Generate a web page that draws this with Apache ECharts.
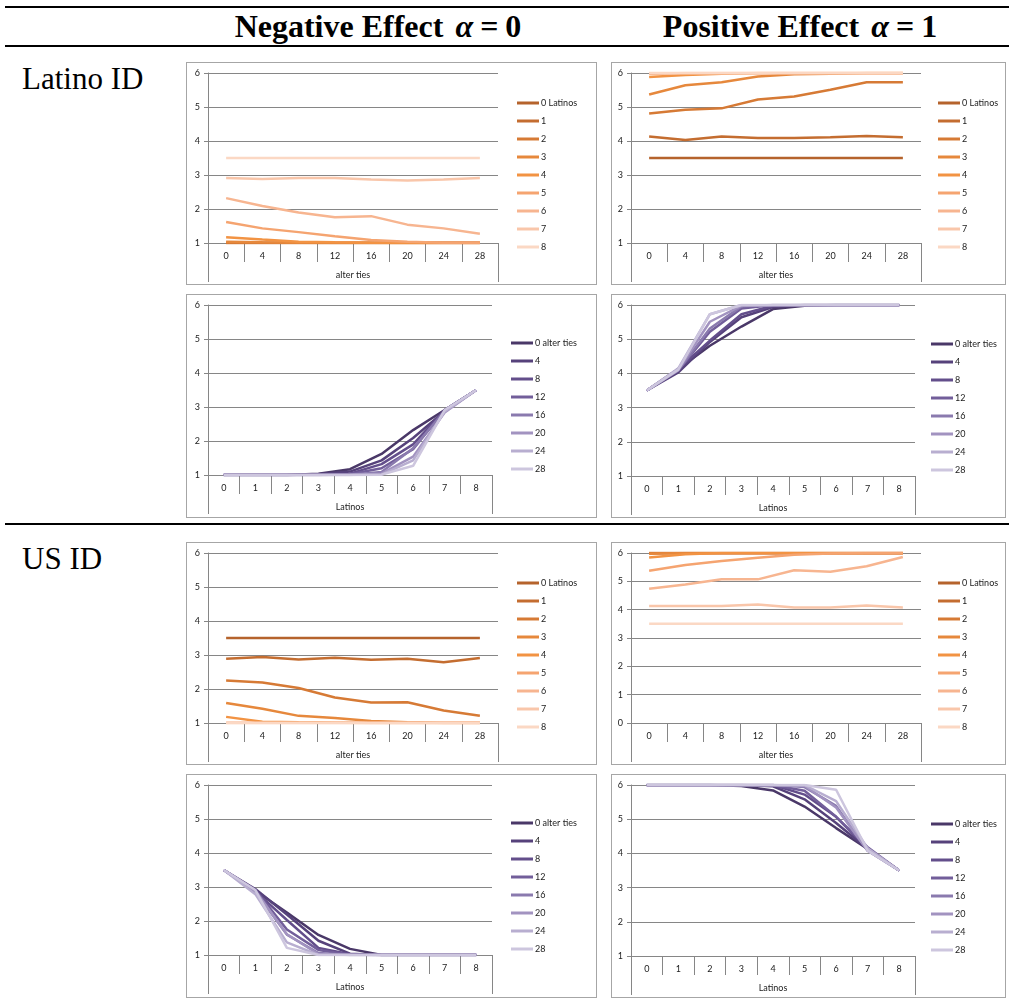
<!DOCTYPE html>
<html><head><meta charset="utf-8">
<script src="https://cdn.jsdelivr.net/npm/echarts@6/dist/echarts.min.js"></script>
<style>
html,body{margin:0;padding:0;background:#fff;}
body{width:1009px;height:1003px;position:relative;overflow:hidden;font-family:"Liberation Serif","Times New Roman",serif;}
.rule{position:absolute;left:5px;width:1004px;height:1.5px;background:#000;}
.title{position:absolute;top:8px;width:460px;text-align:center;font-weight:bold;font-size:32px;line-height:36px;color:#000;white-space:nowrap;}
.title i{font-weight:bold;margin-left:4px;}
.title .eq{margin:0 7px;}
.rowlab{position:absolute;left:22px;font-size:31px;line-height:31px;color:#000;}
.box{position:absolute;border:1px solid #a6a6a6;box-sizing:border-box;}
.chart{position:absolute;}
</style></head>
<body>
<div class="rule" style="top:6px"></div>
<div class="rule" style="top:45px"></div>
<div class="rule" style="top:523px"></div>
<div class="title" style="left:148px">Negative Effect <i>α</i><span class="eq">=</span>0</div>
<div class="title" style="left:570px">Positive Effect <i>α</i><span class="eq">=</span>1</div>
<div class="rowlab" style="top:63px">Latino ID</div>
<div class="rowlab" style="top:543px">US ID</div>
<div id="panels"></div>
<script>
// ---- data ----
const alterTies = ['0','4','8','12','16','20','24','28'];
const latinos = ['0','1','2','3','4','5','6','7','8'];
// rows: number of Latinos (0..8); columns: alter ties (0..28)
const latinoNeg = [
  [1,1,1,1,1,1,1,1],
  [1,1,1,1,1,1,1,1],
  [1,1,1,1,1,1,1,1],
  [1.04,1.02,1.01,1,1,1,1,1],
  [1.17,1.1,1.04,1.02,1.01,1,1,1],
  [1.62,1.43,1.32,1.2,1.09,1.04,1.01,1.01],
  [2.32,2.09,1.9,1.76,1.79,1.54,1.43,1.27],
  [2.91,2.88,2.91,2.91,2.87,2.84,2.87,2.91],
  [3.5,3.5,3.5,3.5,3.5,3.5,3.5,3.5]
];
const latinoPos = [
  [3.5,3.5,3.5,3.5,3.5,3.5,3.5,3.5],
  [4.13,4.03,4.13,4.09,4.09,4.11,4.15,4.11],
  [4.81,4.92,4.96,5.22,5.31,5.51,5.73,5.73],
  [5.37,5.64,5.73,5.9,5.96,5.98,6,6],
  [5.88,5.94,5.98,6,6,6,6,6],
  [5.98,6,6,6,6,6,6,6],
  [6,6,6,6,6,6,6,6],
  [6,6,6,6,6,6,6,6],
  [6,6,6,6,6,6,6,6]
];
const usNeg = [
  [3.5,3.5,3.5,3.5,3.5,3.5,3.5,3.5],
  [2.89,2.94,2.87,2.92,2.86,2.89,2.79,2.91],
  [2.25,2.19,2.03,1.75,1.6,1.61,1.37,1.21],
  [1.59,1.42,1.21,1.15,1.06,1.02,1,1],
  [1.18,1.04,1.02,1.01,1,1,1,1],
  [1,1,1,1,1,1,1,1],
  [1,1,1,1,1,1,1,1],
  [1,1,1,1,1,1,1,1],
  [1,1,1,1,1,1,1,1]
];
const usPos = [
  [6,6,6,6,6,6,6,6],
  [6,6,6,6,6,6,6,6],
  [6,6,6,6,6,6,6,6],
  [5.97,6,6,6,6,6,6,6],
  [5.84,5.96,6,6,6,6,6,6],
  [5.37,5.58,5.72,5.83,5.94,5.98,6,6],
  [4.74,4.89,5.07,5.07,5.39,5.34,5.53,5.86],
  [4.13,4.13,4.13,4.18,4.08,4.08,4.15,4.08],
  [3.5,3.5,3.5,3.5,3.5,3.5,3.5,3.5]
];
const yTicksStd = [1,6];
const yTicksZero = [0,6];

const orangeColors = ['#b5632c','#c46d30','#d67a35','#e6883c','#f29343','#f5a470','#f7b590','#f9c6aa','#fbd8c4'];
const purpleColors = ['#4a3868','#56427b','#634e8b','#725e9a','#8a7aae','#a293c0','#b8aed0','#cdc6de'];

// ---- layout ----
const FONT = 'Lato, "Liberation Sans", sans-serif';
const panels = [
  {m:latinoNeg, by:'alter', y:yTicksStd, box:[186,62,411,223], grid:[22,11,290,170], leg:[326,30]},
  {m:latinoPos, by:'alter', y:yTicksStd, box:[611,62,395,223], grid:[20,11,290,170], leg:[322,30]},
  {m:latinoNeg, by:'latinos', y:yTicksStd, box:[186,294,411,224], grid:[22,11,284,170], leg:[320,38]},
  {m:latinoPos, by:'latinos', y:yTicksStd, box:[611,294,395,224], grid:[20,11,284,171], leg:[315,39]},
  {m:usNeg, by:'alter', y:yTicksStd, box:[186,542,411,223], grid:[22,11,290,170], leg:[326,30]},
  {m:usPos, by:'alter', y:yTicksZero, box:[611,542,395,223], grid:[20,11,290,170], leg:[322,30]},
  {m:usNeg, by:'latinos', y:yTicksStd, box:[186,774,411,224], grid:[22,11,284,170], leg:[320,38]},
  {m:usPos, by:'latinos', y:yTicksStd, box:[611,774,395,224], grid:[20,11,284,171], leg:[315,39]}
];

const host = document.getElementById('panels');
const axisGray = '#868686';

panels.forEach(p => {
  const b = document.createElement('div');
  b.className = 'box';
  b.style.cssText = `left:${p.box[0]}px;top:${p.box[1]}px;width:${p.box[2]}px;height:${p.box[3]}px;`;
  host.appendChild(b);
  const c = document.createElement('div');
  c.className = 'chart';
  c.style.cssText = `left:${p.box[0]}px;top:${p.box[1]}px;width:${p.box[2]}px;height:${p.box[3]}px;`;
  host.appendChild(c);

  let cats, names, seriesData, colors, xName;
  if (p.by === 'alter') {
    cats = alterTies; xName = 'alter ties'; colors = orangeColors;
    names = latinos.map((l,i) => i === 0 ? '0 Latinos' : l);
    seriesData = p.m;
  } else {
    cats = latinos; xName = 'Latinos'; colors = purpleColors;
    names = alterTies.map((a,j) => j === 0 ? '0 alter ties' : a);
    seriesData = alterTies.map((a,j) => p.m.map(r => r[j]));
  }
  const chart = echarts.init(c, null, {renderer:'canvas'});
  chart.setOption({
    animation:false,
    grid:{left:p.grid[0], top:p.grid[1], width:p.grid[2], height:p.grid[3], containLabel:false, outerBoundsMode:'none'},
    legend:{
      orient:'vertical', left:p.leg[0], top:p.leg[1],
      icon:'rect', itemWidth:22, itemHeight:3, itemGap:6,
      selectedMode:false,
      textStyle:{fontSize:9, lineHeight:12, color:'#222', fontFamily:FONT, padding:[0,0,0,-3]},
      data:names
    },
    xAxis:[{
      type:'category', data:cats, boundaryGap:true,
      axisLine:{show:true, lineStyle:{color:axisGray, width:1}},
      axisTick:{show:true, length:19, interval:0, lineStyle:{color:axisGray}},
      axisLabel:{interval:0, fontSize:9, margin:9, color:'#222', fontFamily:FONT},
      name:xName, nameLocation:'middle', nameGap:28,
      nameTextStyle:{fontSize:9, color:'#222', fontFamily:FONT},
      splitLine:{show:false}
    },{
      type:'category', data:[''], boundaryGap:true, position:'bottom', offset:0,
      axisLine:{show:false},
      axisTick:{show:true, length:39, interval:0, lineStyle:{color:axisGray}},
      axisLabel:{show:false}
    }],
    yAxis:{
      type:'value', min:p.y[0], max:p.y[1], interval:1,
      axisLine:{show:true, lineStyle:{color:axisGray}},
      axisTick:{show:true, length:4, lineStyle:{color:axisGray}},
      axisLabel:{fontSize:9, margin:8, color:'#222', fontFamily:FONT},
      splitLine:{show:true, lineStyle:{color:axisGray, width:1}}
    },
    series: seriesData.map((d,i) => ({
      type:'line', name:names[i], data:d, xAxisIndex:0,
      symbol:'none', showSymbol:false,
      lineStyle:{width:2.5, color:colors[i]},
      itemStyle:{color:colors[i]},
      emphasis:{disabled:true}
    }))
  });
});
</script>
</body></html>
